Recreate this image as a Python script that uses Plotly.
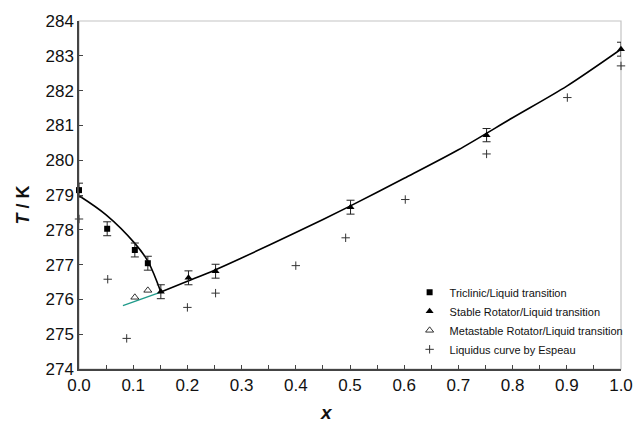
import plotly.graph_objects as go

# Triclinic/Liquid transition (filled squares)
tri_x = [0.0, 0.052, 0.103, 0.127]
tri_T = [279.14, 278.03, 277.42, 277.04]
tri_err = [0.2, 0.2, 0.2, 0.2]

# Stable Rotator/Liquid transition (filled triangles)
stab_x = [0.151, 0.202, 0.252, 0.501, 0.752, 1.0]
stab_T = [276.22, 276.62, 276.81, 278.65, 280.72, 283.19]
stab_err = [0.2, 0.2, 0.2, 0.2, 0.19, 0.2]

# Metastable Rotator/Liquid transition (open triangles)
meta_x = [0.103, 0.127]
meta_T = [276.06, 276.26]

# Liquidus curve by Espeau (plus)
esp_x = [0.0, 0.053, 0.088, 0.2, 0.252, 0.40, 0.492, 0.602, 0.752, 0.901, 1.0]
esp_T = [278.31, 276.58, 274.88, 275.77, 276.18, 276.97, 277.77, 278.87, 280.18, 281.80, 282.71]

# fitted curves
tri_curve_x = [0.0, 0.05, 0.103, 0.127, 0.151]
tri_curve_T = [278.98, 278.43, 277.61, 277.10, 276.21]
stab_curve_x = [0.151, 0.2, 0.25, 0.3, 0.4, 0.5, 0.6, 0.7, 0.8, 0.9, 1.0]
stab_curve_T = [276.21, 276.52, 276.84, 277.19, 277.92, 278.68, 279.48, 280.30, 281.22, 282.13, 283.19]
meta_curve_x = [0.081, 0.151]
meta_curve_T = [275.82, 276.21]

x_ticks = [0.0, 0.1, 0.2, 0.3, 0.4, 0.5, 0.6, 0.7, 0.8, 0.9, 1.0]
y_ticks = [274, 275, 276, 277, 278, 279, 280, 281, 282, 283, 284]

FONT = "Liberation Sans, Arial, Helvetica, sans-serif"

fig = go.Figure()

fig.add_trace(go.Scatter(x=tri_curve_x, y=tri_curve_T, mode="lines",
                         line=dict(color="black", width=1.6, shape="spline"),
                         showlegend=False, hoverinfo="skip"))
fig.add_trace(go.Scatter(x=stab_curve_x, y=stab_curve_T, mode="lines",
                         line=dict(color="black", width=1.6, shape="spline", smoothing=0.8),
                         showlegend=False, hoverinfo="skip"))
fig.add_trace(go.Scatter(x=meta_curve_x, y=meta_curve_T, mode="lines",
                         line=dict(color="#1f9a8a", width=1.4),
                         showlegend=False, hoverinfo="skip"))

fig.add_trace(go.Scatter(x=tri_x, y=tri_T, mode="markers", name="Triclinic/Liquid transition",
                         marker=dict(symbol="square", size=6, color="black"), cliponaxis=False,
                         error_y=dict(type="data", array=tri_err, color="#222", thickness=1, width=4)))
fig.add_trace(go.Scatter(x=stab_x, y=stab_T, mode="markers", name="Stable Rotator/Liquid transition",
                         marker=dict(symbol="triangle-up", size=7, color="black"), cliponaxis=False,
                         error_y=dict(type="data", array=stab_err, color="#222", thickness=1, width=4)))
fig.add_trace(go.Scatter(x=meta_x, y=meta_T, mode="markers", name="Metastable Rotator/Liquid transition",
                         marker=dict(symbol="triangle-up-open", size=7, color="black", line=dict(width=0.8)),
                         cliponaxis=False))
fig.add_trace(go.Scatter(x=esp_x, y=esp_T, mode="markers", name="Liquidus curve by Espeau",
                         marker=dict(symbol="cross-thin-open", size=6, color="#333", line=dict(width=1, color="#333")),
                         cliponaxis=False))

# light frame on top/right
fig.add_shape(type="rect", xref="paper", yref="paper", x0=0, y0=0, x1=1, y1=1,
              line=dict(color="#c4c4c4", width=1.2), layer="below")

fig.update_layout(
    width=642, height=425,
    margin=dict(l=79, r=9, t=21, b=56),
    paper_bgcolor="white", plot_bgcolor="white",
    font=dict(family=FONT, color="#111"),
    legend=dict(x=0.61, y=0.262, xanchor="left", yanchor="top",
                font=dict(size=11, family=FONT, color="#111"),
                bgcolor="rgba(0,0,0,0)", tracegroupgap=0),
    xaxis=dict(range=[0, 1], tickvals=x_ticks, ticktext=[f"{v:.1f}" for v in x_ticks],
               ticks="inside", ticklen=4, tickcolor="#444", showgrid=False, zeroline=False,
               showline=True, linecolor="#444", linewidth=1.5,
               tickfont=dict(size=17, family=FONT, color="#111"),
               minor=dict(dtick=0.05, tick0=0, ticks="inside", ticklen=4, tickcolor="#444")),
    yaxis=dict(range=[274, 284], tickvals=y_ticks, ticks="inside", ticklen=4, tickcolor="#444",
               showgrid=False, zeroline=False, showline=True, linecolor="#444", linewidth=1.5,
               tickfont=dict(size=17, family=FONT, color="#111")),
    annotations=[
        dict(text="<b><i>T</i> / K</b>", xref="paper", yref="paper", x=-0.103, y=0.47,
             xanchor="center", yanchor="middle", textangle=-90, showarrow=False,
             font=dict(size=18, family=FONT, color="#111")),
        dict(text="<b><i>x</i></b>", xref="paper", yref="paper", x=0.457, y=-0.125,
             xanchor="center", yanchor="middle", showarrow=False,
             font=dict(size=19, family=FONT, color="#111")),
    ],
)

fig.write_html("out.html")
